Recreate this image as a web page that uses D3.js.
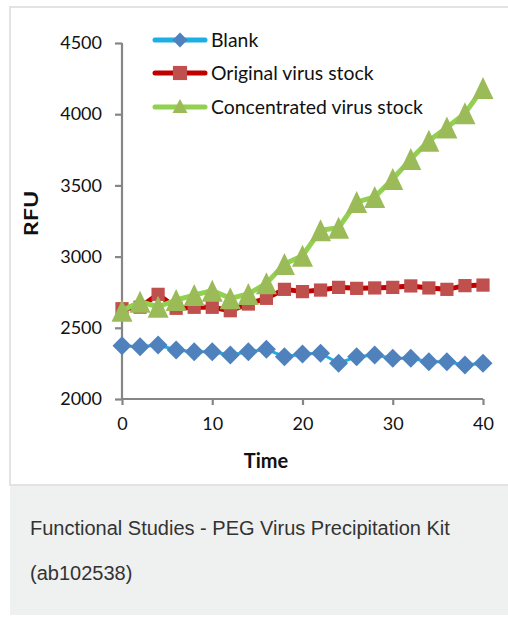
<!DOCTYPE html>
<html><head><meta charset="utf-8">
<script src="https://cdn.jsdelivr.net/npm/d3@7"></script>
<style>body{margin:0;background:#fff;overflow:hidden}</style>
</head><body>
<svg id="c" width="508" height="617"></svg>
<script>
const times = [0,2,4,6,8,10,12,14,16,18,20,22,24,26,28,30,32,34,36,38,40];
const blank = [2374,2367,2379,2344,2332,2332,2309,2332,2349,2297,2316,2321,2251,2297,2309,2286,2286,2262,2262,2239,2251];
const original = [2634,2645,2735,2637,2644,2644,2620,2667,2707,2770,2754,2765,2784,2777,2780,2784,2794,2780,2770,2796,2800];
const concentrated = [2620,2683,2648,2695,2730,2761,2707,2737,2812,2948,3006,3185,3203,3383,3419,3545,3685,3814,3907,4006,4184];
const yTicks = [2000,2500,3000,3500,4000,4500];
const xTicks = [0,10,20,30,40];
const seriesNames = ["Blank","Original virus stock","Concentrated virus stock"];
const captionLines = ["Functional Studies - PEG Virus Precipitation Kit","(ab102538)"];

const svg = d3.select("#c");
svg.append("rect").attr("x",10).attr("y",7).attr("width",510).attr("height",478)
  .attr("fill","#fff").attr("stroke","#e3e3e3").attr("stroke-width",2);
svg.append("rect").attr("x",10).attr("y",486).attr("width",498).attr("height",129).attr("fill","#eff0f0");

const x = d3.scaleLinear().domain([0,40]).range([122,483]);
const y = d3.scaleLinear().domain([2000,4500]).range([399,43]);
const axisColor = "#868686";
const font = "Lato, 'Open Sans', sans-serif";

const yAxis = svg.append("g").attr("transform","translate(122,0)")
  .call(d3.axisLeft(y).tickValues(yTicks).tickSize(7).tickPadding(13).tickFormat(d3.format("d")));
const xAxis = svg.append("g").attr("transform","translate(0,399)")
  .call(d3.axisBottom(x).tickValues(xTicks).tickSize(6).tickPadding(12).tickFormat(d3.format("d")));
[yAxis,xAxis].forEach(g=>{
  g.select(".domain").attr("stroke",axisColor).attr("stroke-width",2.2);
  g.selectAll(".tick line").attr("stroke",axisColor).attr("stroke-width",2.2);
  g.selectAll("text").attr("fill","#111").style("font-family",font).style("font-size","18px");
});
yAxis.select(".domain").attr("d","M-0,43V399");
xAxis.select(".domain").attr("d","M122,0H483");

svg.append("text").attr("x",266).attr("y",468).attr("text-anchor","middle")
  .style("font-family",font).style("font-weight","bold").style("font-size","20px").attr("fill","#111").text("Time");
svg.append("text").attr("transform","translate(37.5,213.5) rotate(-90) scale(1.3,1)").attr("text-anchor","middle")
  .style("font-family",font).style("font-weight","bold").style("font-size","18px").attr("fill","#111").text("RFU");

function tri(w,h){ const p=d3.path(); p.moveTo(0,-h/2); p.lineTo(w/2,h/2); p.lineTo(-w/2,h/2); p.closePath(); return p.toString(); }

const series = [
  {name:seriesNames[0], vals:blank, line:"#1eaee6", lw:3, fill:"#4f81bd", marker:"diamond"},
  {name:seriesNames[1], vals:original, line:"#c00000", lw:5, fill:"#c0504d", marker:"square"},
  {name:seriesNames[2], vals:concentrated, line:"#92d050", lw:5, fill:"#9bbb59", marker:"tri"}
];
const lineGen = d3.line().x(d=>x(d[0])).y(d=>y(d[1]));
series.forEach(s=>{
  const pts = times.map((t,i)=>[t,s.vals[i]]);
  svg.append("path").datum(pts).attr("d",lineGen).attr("fill","none").attr("stroke",s.line).attr("stroke-width",s.lw).attr("stroke-linejoin","round");
  const g = svg.append("g");
  pts.forEach(p=>{
    const tr = `translate(${x(p[0])},${y(p[1])})`;
    if(s.marker==="diamond") g.append("path").attr("d",d3.symbol(d3.symbolSquare,180)()).attr("transform",tr+" rotate(45)").attr("fill",s.fill);
    else if(s.marker==="square") g.append("path").attr("d",d3.symbol(d3.symbolSquare,175)()).attr("transform",tr).attr("fill",s.fill);
    else g.append("path").attr("d",tri(21,22)).attr("transform",tr).attr("fill",s.fill);
  });
});

const legY = [40,73,107];
series.forEach((s,i)=>{
  const g = svg.append("g").attr("transform",`translate(0,${legY[i]})`);
  g.append("line").attr("x1",155).attr("x2",205).attr("stroke",s.line).attr("stroke-width",5).attr("stroke-linecap","round");
  if(s.marker==="diamond") g.append("path").attr("d",d3.symbol(d3.symbolSquare,110)()).attr("transform","translate(180,0) rotate(45)").attr("fill",s.fill);
  else if(s.marker==="square") g.append("path").attr("d",d3.symbol(d3.symbolSquare,200)()).attr("transform","translate(180,0)").attr("fill",s.fill);
  else g.append("path").attr("d",tri(15,14)).attr("transform","translate(180,-1)").attr("fill",s.fill);
  g.append("text").attr("x",211).attr("y",7).style("font-family",font).style("font-size","19.4px").attr("fill","#111").text(s.name);
});

svg.selectAll(".cap").data(captionLines).enter().append("text")
  .attr("x",30).attr("y",(d,i)=>535+i*45)
  .style("font-family","'Liberation Sans', Arial, sans-serif").style("font-size","20px").attr("fill","#333").text(d=>d);
</script>
</body></html>
